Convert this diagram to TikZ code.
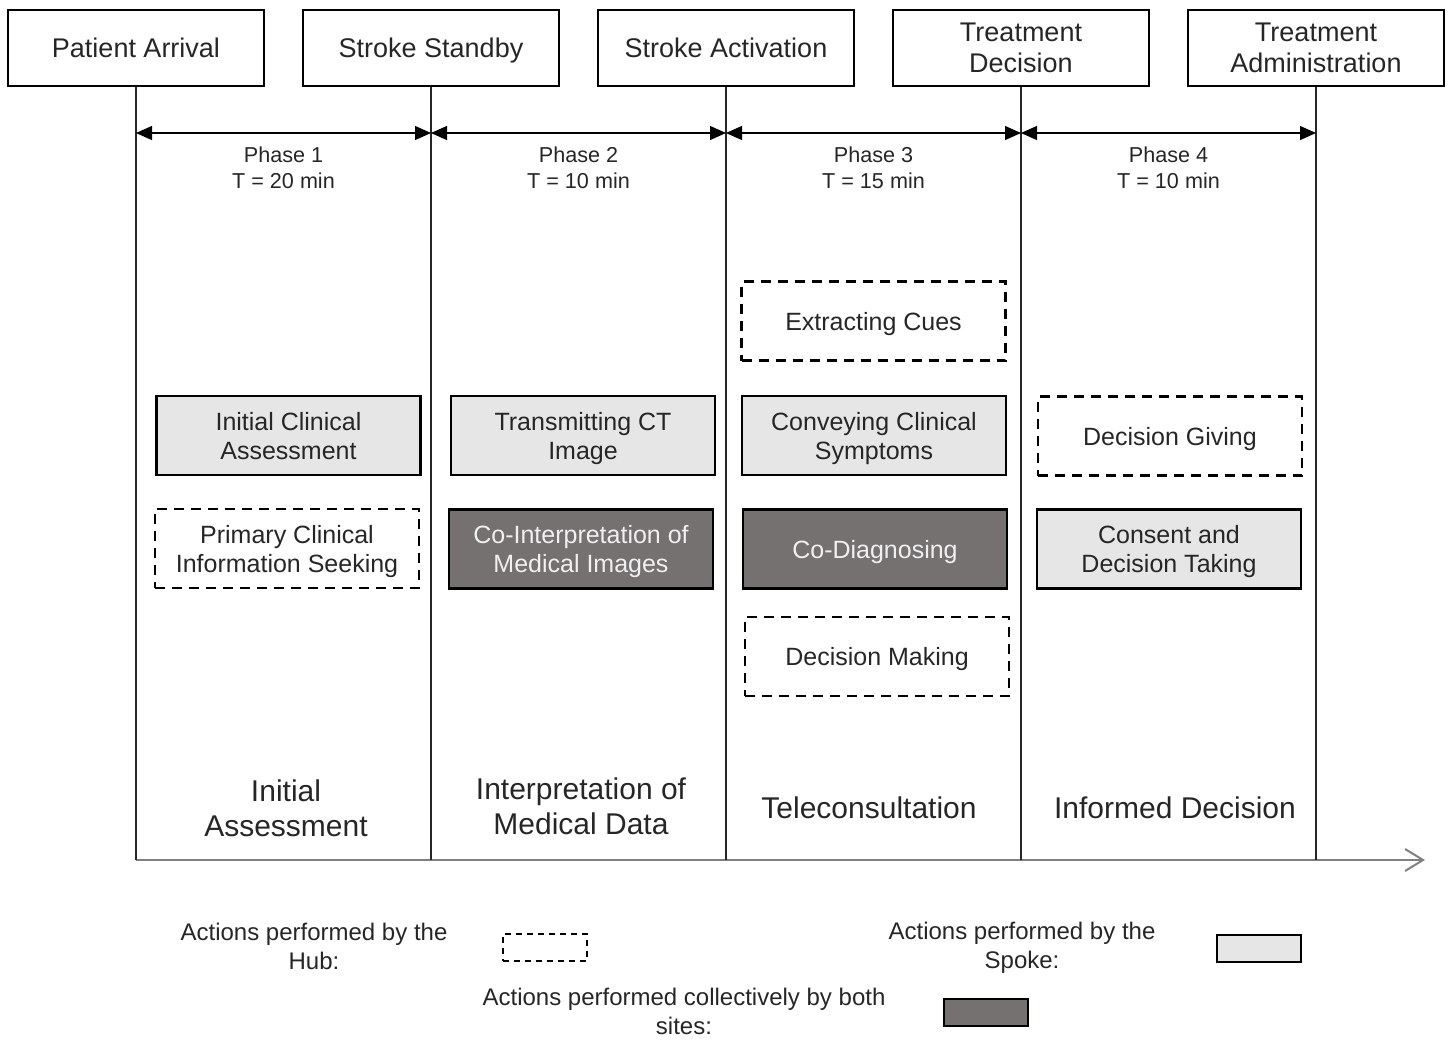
\documentclass[tikz,border=0pt]{standalone}
\usepackage{fontspec}
\setmainfont{Liberation Sans}
\usetikzlibrary{arrows.meta,positioning}
\definecolor{spokefill}{HTML}{E7E6E6}
\definecolor{bothfill}{HTML}{767171}
\definecolor{txt}{HTML}{262626}

\begin{document}
\begin{tikzpicture}[
  x=0.5pt,y=-0.5pt,
  every node/.style={align=center,text=txt,inner sep=1pt,text depth=0pt,
    execute at begin node={\rule{0pt}{0.72em}}},
  event/.style={draw=black,line width=1pt,minimum width=128pt,minimum height=38pt,
    font=\fontsize{13.5}{15.5}\selectfont},
  act/.style={draw=black,line width=1.3pt,minimum width=132pt,minimum height=39.5pt,
    font=\fontsize{12.5}{14.5}\selectfont},
  hub/.style={act,dash pattern=on 5pt off 3.5pt},
  spoke/.style={act,fill=spokefill},
  both/.style={act,fill=bothfill,text=white!94!black},
  phase/.style={line width=0.6pt,{Triangle[length=8pt,width=7pt]}-{Triangle[length=8pt,width=7pt]}},
  phaselabel/.style={font=\fontsize{10.8}{13}\selectfont},
  stage/.style={font=\fontsize{15}{17.5}\selectfont},
  legend/.style={font=\fontsize{12}{14.5}\selectfont},
  key/.style={draw=black,line width=1pt,minimum width=42pt,minimum height=13.5pt}
]
  \useasboundingbox (0,0) rectangle (1452,1041);

  % events on top
  \node[event] (arrival)  at (136,48)  {Patient Arrival};
  \node[event] (standby)  at (431,48)  {Stroke Standby};
  \node[event] (activate) at (726,48)  {Stroke Activation};
  \node[event] (decide)   at (1021,48) {Treatment\\Decision};
  \node[event] (admin)    at (1316,48) {Treatment\\Administration};

  % time axis
  \coordinate (axstart) at (136,860);
  \coordinate (axend) at (1425,860);
  \draw[line width=1.2pt,draw=black!50,-{Straight Barb[length=9pt,width=11pt,line width=1pt]}]
    (axstart) -- (axend);

  \foreach \ev in {arrival,standby,activate,decide,admin}
    \draw[line width=0.6pt,draw=black!85] (\ev.south) -- (\ev.south |- axstart);

  % phases
  \foreach \a/\b/\n/\t in {arrival/standby/1/20,standby/activate/2/10,
                           activate/decide/3/15,decide/admin/4/10} {
    \draw[phase] (\a.south |- 0,133) -- (\b.south |- 0,133)
      node[midway,phaselabel,below=5.5pt] (ph\n) {Phase \n\\T = \t{} min};
  }

  % actions
  \node[spoke] (ica)  at (288.5,435.5) {Initial Clinical\\Assessment};
  \node[hub]   (pcis) at (287,548.5)   {Primary Clinical\\Information Seeking};

  \node[spoke] (tct)  at (583,435.5)   {Transmitting CT\\Image};
  \node[both]  (cimi) at (581,549)     {Co-Interpretation of\\Medical Images};

  \node[hub]   (cues) at (873.5,321)   {Extracting Cues};
  \node[spoke] (ccs)  at (874,435.5)   {Conveying Clinical\\Symptoms};
  \node[both]  (codx) at (875,549)     {Co-Diagnosing};
  \node[hub]   (dmak) at (877,656.5)   {Decision Making};

  \node[hub]   (dgiv) at (1170,436)    {Decision Giving};
  \node[spoke] (cdt)  at (1169,549)    {Consent and\\Decision Taking};

  % stage names
  \node[stage] (st1) at (286,808)  {Initial\\Assessment};
  \node[stage] (st2) at (581,806)  {Interpretation of\\Medical Data};
  \node[stage] (st3) at (869,808)  {Teleconsultation};
  \node[stage] (st4) at (1175,808) {Informed Decision};

  % legend
  \node[legend] (lhub) at (314,946) {Actions performed by the\\Hub:};
  \node[key,dash pattern=on 3pt off 2.5pt] (khub) at (544.5,947.5) {};
  \node[legend] (lspoke) at (1022,945) {Actions performed by the\\Spoke:};
  \node[key,fill=spokefill] (kspoke) at (1258.5,948) {};
  \node[legend] (lboth) at (684,1011) {Actions performed collectively by both\\sites:};
  \node[key,fill=bothfill] (kboth) at (985.5,1012.5) {};
\end{tikzpicture}
\end{document}
